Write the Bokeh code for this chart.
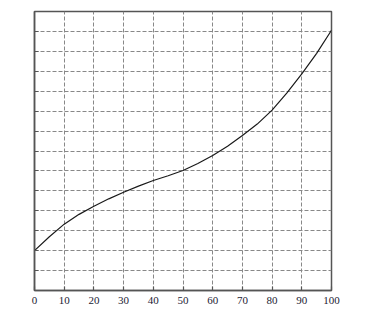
from bokeh.plotting import figure
from bokeh.models import Range1d, FixedTicker
from bokeh.embed import file_html
from bokeh.resources import INLINE

x_vals = [0, 5, 10, 15, 20, 25, 30, 35, 40, 45, 50, 55, 60, 65, 70, 75, 80, 85, 90, 95, 100]
y_vals = [2.0, 2.70, 3.33, 3.82, 4.23, 4.60, 4.93, 5.24, 5.52, 5.76, 6.02, 6.37, 6.77, 7.24, 7.78, 8.35, 9.05, 9.92, 10.87, 11.90, 13.06]
x_ticks = [0, 10, 20, 30, 40, 50, 60, 70, 80, 90, 100]
y_ticks = list(range(0, 15))

p = figure(frame_width=297, frame_height=279, output_backend="svg", toolbar_location=None,
           min_border_left=34, min_border_right=49, min_border_top=11, min_border_bottom=25,
           x_range=Range1d(0, 100), y_range=Range1d(0, 14))

p.line(x_vals, y_vals, line_color="#1a1a1a", line_width=1.2)

for ax in (p.xaxis[0], p.yaxis[0]):
    ax.axis_line_color = "#555555"
    ax.axis_line_width = 1.5
    ax.major_tick_line_color = "#555555"
    ax.major_tick_line_width = 1.2
    ax.major_tick_in = 4
    ax.major_tick_out = 0
    ax.minor_tick_line_color = None

p.xaxis.ticker = FixedTicker(ticks=x_ticks)
p.yaxis.ticker = FixedTicker(ticks=y_ticks)
p.xaxis.major_label_text_font = "Liberation Serif"
p.xaxis.major_label_text_font_size = "11px"
p.xaxis.major_label_text_color = "#222233"
p.xaxis.major_label_standoff = 6
p.yaxis.major_label_text_font_size = "0px"
p.yaxis.major_label_standoff = 0

p.xgrid.ticker = FixedTicker(ticks=x_ticks)
p.ygrid.ticker = FixedTicker(ticks=y_ticks)
for g in (p.xgrid[0], p.ygrid[0]):
    g.grid_line_color = "#888888"
    g.grid_line_dash = "4 2"
    g.grid_line_width = 1

p.outline_line_color = "#555555"
p.outline_line_width = 1.5
p.outline_line_alpha = 1
p.background_fill_color = "white"
p.border_fill_color = "white"

open("out.html", "w").write(file_html(p, INLINE))
